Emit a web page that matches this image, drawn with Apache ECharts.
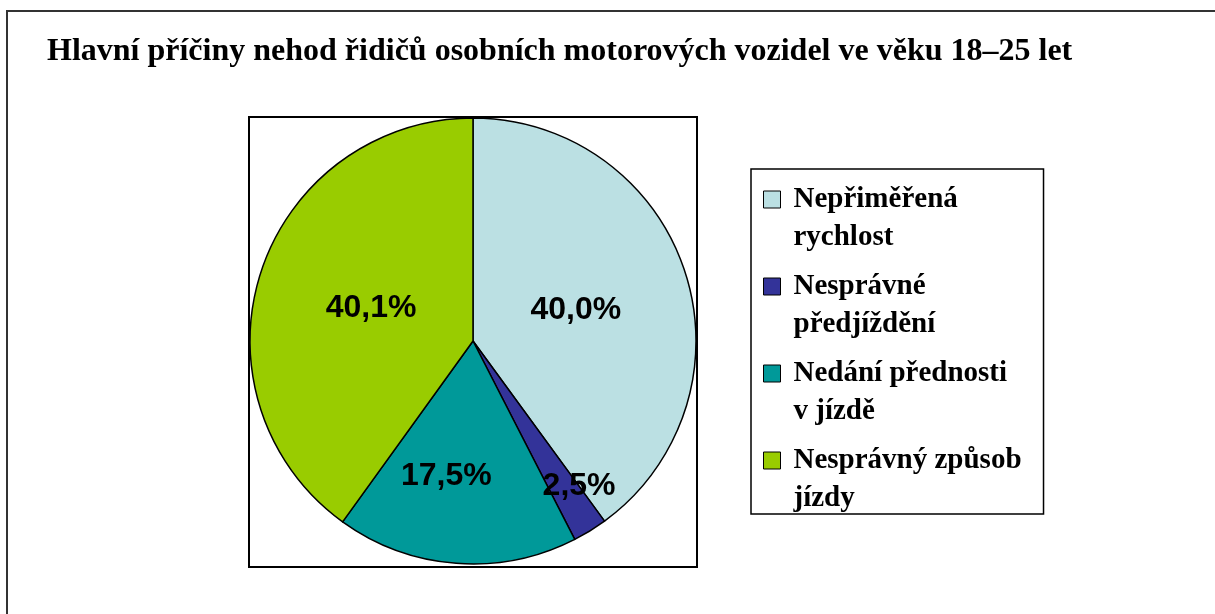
<!DOCTYPE html>
<html>
<head>
<meta charset="utf-8">
<script src="https://cdn.jsdelivr.net/npm/echarts@6/dist/echarts.min.js"></script>
<style>
  html, body { margin: 0; padding: 0; background: #fff; }
  #chart { width: 1215px; height: 614px; }
</style>
</head>
<body>
<div id="chart"></div>
<script>
// data (percent)
var causes = ['Nepřiměřená rychlost', 'Nesprávné předjíždění', 'Nedání přednosti v jízdě', 'Nesprávný způsob jízdy'];
var shares = [40.0, 2.5, 17.5, 40.1];
var legendLines = [['Nepřiměřená', 'rychlost'], ['Nesprávné', 'předjíždění'], ['Nedání přednosti', 'v jízdě'], ['Nesprávný způsob', 'jízdy']];
var titleText = 'Hlavní příčiny nehod řidičů osobních motorových vozidel ve věku 18–25 let';

var colors = ['#BBE0E3', '#333399', '#009999', '#99CC00'];
// how far each % label is moved from the default inside spot [dx, dy]
var labelNudge = [[-6, 5], [46, 48], [-18, 21], [7, 2]];

var chart = echarts.init(document.getElementById('chart'));

var pieData = [];
for (var i = 0; i < causes.length; i++) {
  pieData.push({
    name: causes[i],
    value: shares[i],
    itemStyle: { color: colors[i] }
  });
}

var option = {
  animation: false,
  backgroundColor: '#fff',
  title: {
    text: titleText,
    left: 42,
    top: 31,
    textStyle: { fontFamily: 'Liberation Serif', fontWeight: 'bold', fontSize: 32, color: '#000' }
  },
  graphic: [
    { type: 'polyline', shape: { points: [[7, 614], [7, 11], [1215, 11]] }, style: { stroke: '#333', lineWidth: 2, fill: null } },
    { type: 'rect', shape: { x: 249, y: 117, width: 448, height: 450 }, style: { stroke: '#000', lineWidth: 2, fill: null }, z: 0 }
  ],
  legend: {
    orient: 'vertical',
    left: 751,
    top: 169,
    padding: [16, 22, 1, 12],
    itemWidth: 17,
    itemHeight: 17,
    itemGap: 20,
    icon: 'rect',
    backgroundColor: '#fff',
    borderColor: '#000',
    borderWidth: 1.5,
    itemStyle: { borderColor: '#000', borderWidth: 1 },
    formatter: function (name) {
      var l = legendLines[causes.indexOf(name)];
      return '{t|' + l[0] + '}\n{t|' + l[1] + '}';
    },
    textStyle: {
      color: '#000',
      padding: [0, 0, -38, 8],
      rich: {
        t: { fontFamily: 'Liberation Serif', fontWeight: 'bold', fontSize: 29, lineHeight: 38, color: '#000' }
      }
    },
    data: causes
  },
  series: [{
    type: 'pie',
    center: [473, 341],
    radius: 223,
    startAngle: 90,
    clockwise: true,
    z: 2,
    itemStyle: { borderColor: '#000', borderWidth: 1.5 },
    label: {
      position: 'inside',
      fontFamily: 'Liberation Sans',
      fontWeight: 'bold',
      fontSize: 32,
      color: '#000',
      formatter: function (p) { return p.value.toFixed(1).replace('.', ',') + '%'; }
    },
    labelLayout: function (p) {
      return { dx: labelNudge[p.dataIndex][0], dy: labelNudge[p.dataIndex][1] };
    },
    labelLine: { show: false },
    emphasis: { disabled: true },
    data: pieData
  }]
};

chart.setOption(option);
</script>
</body>
</html>
